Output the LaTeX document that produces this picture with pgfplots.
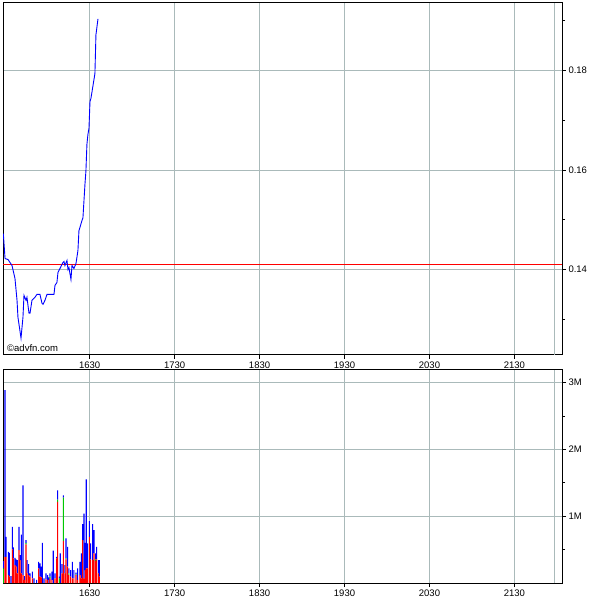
\documentclass[border=0pt]{standalone}
\usepackage{fontspec}
\setmainfont{Liberation Sans}
\usepackage{pgfplots}
\usepackage{pgfplotstable}
\pgfplotsset{compat=1.18}
\definecolor{gridc}{RGB}{170,186,186}
\definecolor{vgreen}{RGB}{0,200,0}
\pgfplotstableread{
x r g b
1528.4 0 0.219 0.109
1530.4 0.393 0 2.497
1531.5 0.393 0 0.299
1534.3 0.119 0 0.349
1535.4 0.095 0 0.358
1537.4 0 0 0.104
1539.0 0.502 0 0.339
1540.2 0.368 0 0.164
1542.1 0.269 0 0.109
1543.3 0.244 0 0.109
1544.9 0.144 0 0.199
1546.8 0.493 0 0.348
1548.0 0.343 0 0.075
1549.6 0.144 0 0.582
1551.5 0.119 0 1.344
1553.1 0.045 0 0.059
1555.1 0.577 0.025 0.040
1556.2 0.144 0 0.199
1558.2 0.119 0 0.165
1559.8 0.095 0 0.049
1562.5 0.070 0 0.099
1564.5 0 0 0.070
1567.6 0 0 0.045
1570.0 0.219 0 0.099
1571.5 0.095 0 0.199
1573.1 0.085 0 0.159
1574.3 0 0 0.602
1576.2 0 0 0.070
1578.6 0.055 0 0.089
1580.6 0.045 0 0.074
1582.1 0 0 0.085
1583.3 0.065 0.030 0.049
1585.6 0.045 0 0.124
1587.2 0 0 0.483
1589.2 0.070 0 0.074
1591.1 0.368 0 0.025
1592.3 1.214 0.035 0.139
1594.3 0 0.070 0.025
1595.4 0 0 0.443
1597.4 0.144 0 0.140
1599.0 0.630 0.650 0.034
1600.9 0.144 0 0.125
1602.1 0.353 0.015 0.299
1604.1 0.244 0 0.298
1605.6 0.119 0.025 0.075
1607.6 0.095 0 0.099
1609.6 0.070 0 0.248
1611.5 0.070 0 0.124
1613.9 0.119 0.010 0.025
1615.8 0.045 0 0.174
1618.6 0.119 0 0.199
1620.2 0.070 0 0.373
1621.7 0.642 0 0.239
1623.3 0.070 0 0.970
1624.9 0.194 0 0.408
1626.0 0.219 0 1.333
1627.6 0.219 0 0.373
1629.6 0.692 0 0.233
1631.1 0.353 0 0.239
1633.5 0.343 0 0.538
1635.1 0.443 0 0.348
1637.0 0.333 0.020 0.090
1638.2 0.353 0 0.189
1640.2 0.144 0 0.199
1641.3 0.095 0 0.248
}\voltable
\pgfplotsset{
  panel/.style={
    scale only axis, width=559pt, anchor=south west,
    xmin=1528, xmax=2186,
    xtick={1630,1730,1830,1930,2030,2130},
    xticklabels={1630,1730,1830,1930,2030,2130},
    extra x ticks={2177}, extra x tick labels={},
    extra x tick style={grid=major, major tick length=0pt},
    grid=major,
    major grid style={gridc, line width=0.8pt},
    axis line style={black, line width=1pt},
    tick style={black, line width=0.8pt},
    tick align=outside,
    major tick length=4pt, minor tick length=3pt,
    xtick pos=bottom, ytick pos=right,
    yticklabel pos=right,
    tick label style={font=\fontsize{9.5}{11}\selectfont, text=black},
    /pgf/number format/assume math mode=true,
    /pgf/number format/1000 sep={},
    xticklabel style={yshift=1pt},
    yticklabel style={xshift=-1pt},
  }
}
\begin{document}
\begin{tikzpicture}
\path[use as bounding box] (0,0) rectangle (600pt,600pt);
\begin{axis}[panel, at={(3pt,245pt)}, height=352pt,
  ymin=0.1228, ymax=0.1936,
  ytick={0.14,0.16,0.18},
  yticklabels={0.14,0.16,0.18},
  minor ytick={0.13,0.15,0.17,0.19},
]
\addplot[red, line width=0.9pt] coordinates {(1528,0.141) (2186,0.141)};
\addplot[blue, line width=0.9pt] coordinates {
(1528.4,0.1472) (1530.4,0.1422) (1533.9,0.142) (1538.6,0.1408) (1542.1,0.1382)
(1544.5,0.1338) (1545.6,0.1304) (1549.2,0.1262) (1551.5,0.1304) (1552.7,0.1348)
(1555.1,0.1338) (1556.2,0.1344) (1558.6,0.1312) (1559.8,0.1312) (1562.1,0.1338)
(1565.6,0.1344) (1568,0.135) (1571.5,0.135) (1573.9,0.1332) (1575.1,0.133)
(1577.4,0.1338) (1579.8,0.135) (1588,0.135) (1589.2,0.1368) (1591.5,0.1374)
(1592.7,0.1394) (1595.1,0.1402) (1598.6,0.1414) (1599.8,0.1416) (1600.9,0.1408)
(1603.3,0.1418) (1604.5,0.14) (1605.6,0.1404) (1608,0.138) (1609.2,0.1408)
(1611.5,0.1402) (1613.9,0.1412) (1616.2,0.1438) (1617.4,0.1478) (1620.9,0.1498)
(1622.1,0.1504) (1623.3,0.1538) (1624.5,0.1572) (1625.6,0.1598) (1626.8,0.1652)
(1628,0.1672) (1629.2,0.1684) (1630.4,0.1738) (1631.5,0.1744) (1636.2,0.1794)
(1637.4,0.1872) (1639.8,0.1904)};
\node[anchor=south west, font=\fontsize{9.5}{11}\selectfont, inner sep=0pt]
  at (rel axis cs:0,0) [xshift=4pt, yshift=3pt] {©advfn.com};
\end{axis}
\begin{axis}[panel, at={(3pt,17pt)}, height=213pt,
  ymin=0, ymax=3.19,
  ytick={1,2,3},
  yticklabels={1M,2M,3M},
  minor ytick={0.5,1.5,2.5},
  ybar stacked, bar width=1.3,
]
\addplot[draw=none, fill=red] table[x=x, y=r] {\voltable};
\addplot[draw=none, fill=vgreen] table[x=x, y=g] {\voltable};
\addplot[draw=none, fill=blue] table[x=x, y=b] {\voltable};
\end{axis}
\end{tikzpicture}
\end{document}
